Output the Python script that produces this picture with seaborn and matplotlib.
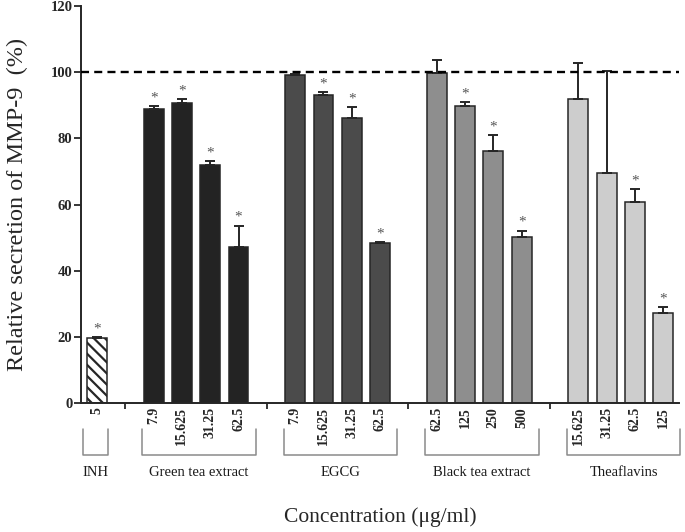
import numpy as np
import pandas as pd
import matplotlib
matplotlib.use("Agg")
from matplotlib import pyplot as plt
import matplotlib.transforms as mtransforms
import seaborn as sns

# data
groups = ["INH", "Green tea extract", "EGCG", "Black tea extract", "Theaflavins"]

inh_conc = ["5"]
inh_mean = [19.7]
inh_err = [0.3]
inh_star = [True]

green_conc = ["7.9", "15.625", "31.25", "62.5"]
green_mean = [88.8, 90.8, 71.9, 47.2]
green_err = [0.9, 1.0, 1.3, 6.4]
green_star = [True, True, True, True]

egcg_conc = ["7.9", "15.625", "31.25", "62.5"]
egcg_mean = [99.0, 93.0, 86.0, 48.5]
egcg_err = [0.4, 1.0, 3.4, 0.2]
egcg_star = [False, True, True, True]

black_conc = ["62.5", "125", "250", "500"]
black_mean = [99.8, 89.7, 76.3, 50.1]
black_err = [4.0, 1.3, 4.6, 2.0]
black_star = [False, True, True, True]

thea_conc = ["15.625", "31.25", "62.5", "125"]
thea_mean = [91.8, 69.6, 60.9, 27.1]
thea_err = [11.0, 30.7, 3.8, 1.8]
thea_star = [False, False, True, True]

colors = {"INH": "#ffffff", "Green tea extract": "#232323", "EGCG": "#4b4b4b",
          "Black tea extract": "#8e8e8e", "Theaflavins": "#cdcdcd"}

concs = [inh_conc, green_conc, egcg_conc, black_conc, thea_conc]
means = [inh_mean, green_mean, egcg_mean, black_mean, thea_mean]
errs = [inh_err, green_err, egcg_err, black_err, thea_err]
stars = [inh_star, green_star, egcg_star, black_star, thea_star]

# build table, one empty slot between groups
rows = []
gaps = []
pos = 0
for g, c, m, e, s in zip(groups, concs, means, errs, stars):
    for ci, mi, ei, si in zip(c, m, e, s):
        rows.append({"group": g, "conc": ci, "pos": pos, "value": mi, "err": ei, "star": si})
        pos += 1
    gaps.append(pos)
    pos += 1
df = pd.DataFrame(rows)

sns.set_style("ticks")
plt.rcParams['font.family'] = ['Liberation Serif', 'DejaVu Serif']
plt.rcParams['hatch.linewidth'] = 1.6
plt.rcParams['hatch.color'] = '#1a1a1a'

fig = plt.figure(figsize=(6.85, 5.32), dpi=100)
ax = fig.add_axes([0.118, 0.2425, 0.873, 0.7462])

sns.barplot(data=df, x="pos", y="value", hue="group", palette=colors, native_scale=True,
            dodge=False, width=0.7, errorbar=None, edgecolor="#262626", linewidth=1.1,
            legend=False, ax=ax)

# hatch the INH bar
for p in ax.patches:
    cx = p.get_x() + p.get_width() / 2
    if abs(cx - df.loc[df.group == "INH", "pos"].iloc[0]) < 0.1:
        p.set_hatch("\\\\\\")

ax.errorbar(df["pos"], df["value"], yerr=[np.zeros(len(df)), df["err"]], fmt="none",
            ecolor="#262626", elinewidth=1.4, capsize=3.6, capthick=1.4, zorder=3)

for _, r in df.iterrows():
    if r["star"]:
        ax.text(r["pos"], r["value"] + r["err"] + 0.5, "*", ha="center", va="bottom",
                fontsize=11, color="#555555")

ax.set_xlim(-0.57, gaps[-1] - 0.45)
ax.axhline(100, color="black", lw=1.7, ls=(0, (3.4, 2.2)), zorder=4)

ax.set_ylim(0, 120)
ax.set_yticks(np.arange(0, 121, 20))
ax.tick_params(axis="y", labelsize=10.5, width=1.3, length=5, pad=1)
for t in ax.get_yticklabels():
    t.set_fontweight("bold")

ax.set_xticks(df["pos"])
ax.set_xticklabels(df["conc"], rotation=90, fontsize=10, fontweight="bold")
ax.tick_params(axis="x", which="major", length=0, pad=3)
ax.set_xticks(gaps[:-1], minor=True)
ax.tick_params(axis="x", which="minor", length=4, width=1.3)

sns.despine(ax=ax)
ax.spines["left"].set_linewidth(1.4)
ax.spines["bottom"].set_linewidth(1.4)

ax.set_xlabel("")
ax.set_ylabel("Relative secretion of MMP-9  (%)", fontsize=17.5, labelpad=16)
fig.text(0.555, 0.028, "Concentration (\u03bcg/ml)", ha="center", va="center", fontsize=15.5)

# group brackets under the tick labels
trans = mtransforms.blended_transform_factory(ax.transData, ax.transAxes)
for g in groups:
    sub = df[df.group == g]
    if len(sub) == 1:
        x0, x1 = sub["pos"].min() - 0.5, sub["pos"].max() + 0.4
    else:
        x0, x1 = sub["pos"].min() - 0.4, sub["pos"].max() + 0.6
    ax.plot([x0, x0, x1, x1], [-0.066, -0.131, -0.131, -0.066], color="#8a8a8a", lw=1.1,
            transform=trans, clip_on=False)
    ax.text((x0 + x1) / 2, -0.174, g, ha="center", va="center", fontsize=10.5,
            transform=trans, color="#1a1a1a")

plt.savefig("out.png", dpi=100)
